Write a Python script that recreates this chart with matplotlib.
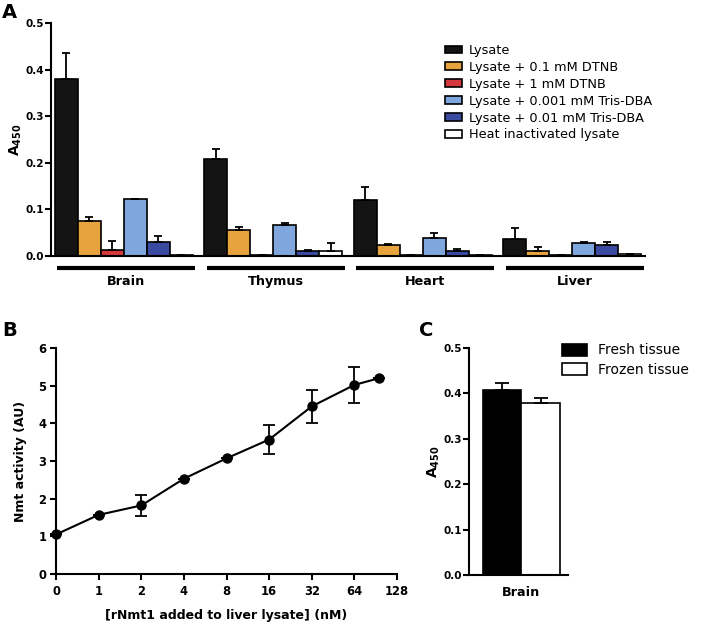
import matplotlib
matplotlib.use("Agg")
import matplotlib.pyplot as plt
from matplotlib.patches import Patch
import numpy as np

plt.rcParams['font.family'] = ['DejaVu Sans']

# ---- panel A data ----
tissues = ["Brain", "Thymus", "Heart", "Liver"]
conditions = ["Lysate", "Lysate + 0.1 mM DTNB", "Lysate + 1 mM DTNB",
              "Lysate + 0.001 mM Tris-DBA", "Lysate + 0.01 mM Tris-DBA",
              "Heat inactivated lysate"]
colors = ["#141414", "#E7A33E", "#D2383C", "#80A7DD", "#3A4AA0", "#FFFFFF"]
# rows = conditions, cols = tissues
a_means = [
    [0.380, 0.207, 0.120, 0.037],
    [0.075, 0.055, 0.023, 0.010],
    [0.013, 0.001, 0.001, 0.002],
    [0.122, 0.067, 0.039, 0.027],
    [0.030, 0.010, 0.011, 0.024],
    [0.001, 0.011, 0.001, 0.004],
]
a_err = [
    [0.055, 0.022, 0.028, 0.022],
    [0.008, 0.007, 0.002, 0.009],
    [0.018, 0.000, 0.000, 0.000],
    [0.001, 0.004, 0.009, 0.003],
    [0.013, 0.002, 0.003, 0.005],
    [0.000, 0.016, 0.000, 0.000],
]

# ---- panel B data ----
b_conc = [0, 1, 2, 4, 8, 16, 32, 64, 96]
b_tick_labels = ["0", "1", "2", "4", "8", "16", "32", "64", "128"]
b_act = [1.05, 1.57, 1.82, 2.53, 3.07, 3.57, 4.45, 5.02, 5.20]
b_err = [0.0, 0.0, 0.28, 0.0, 0.0, 0.38, 0.44, 0.48, 0.0]

# ---- panel C data ----
c_labels = ["Fresh tissue", "Frozen tissue"]
c_means = [0.407, 0.378]
c_err = [0.015, 0.011]
c_colors = ["#000000", "#FFFFFF"]

fig = plt.figure(figsize=(7.02, 6.24), dpi=100)

def style_axes(ax, fs=7.5):
    for s in ["top", "right"]:
        ax.spines[s].set_visible(False)
    for s in ["left", "bottom"]:
        ax.spines[s].set_linewidth(1.5)
    ax.tick_params(width=1.5, length=4, direction="out", labelsize=fs, pad=1)
    for lab in ax.get_xticklabels() + ax.get_yticklabels():
        lab.set_fontweight("bold")

# ===== Panel A =====
axA = fig.add_axes([0.0726, 0.590, 0.846, 0.373])
pitch = 6.5
for j, cond in enumerate(conditions):
    xs = [i * pitch + j + 0.5 for i in range(len(tissues))]
    axA.bar(xs, a_means[j], width=1.0, color=colors[j], edgecolor="black",
            linewidth=1.2, label=cond)
    axA.errorbar(xs, a_means[j], yerr=[np.zeros(4), a_err[j]], fmt="none",
                 ecolor="black", elinewidth=1.3, capsize=3, capthick=1.3)
axA.set_xlim(-0.17, 25.65)
axA.set_ylim(0, 0.5)
axA.set_yticks([0, 0.1, 0.2, 0.3, 0.4, 0.5])
axA.set_yticklabels(["0.0", "0.1", "0.2", "0.3", "0.4", "0.5"])
axA.set_xticks([])
style_axes(axA)
axA.set_ylabel(r"$\mathbf{A_{450}}$", fontsize=10, labelpad=1)
for i, t in enumerate(tissues):
    x0 = i * pitch + 0.1
    x1 = i * pitch + 6.1
    axA.plot([x0, x1], [-0.027, -0.027], color="black", lw=3,
             solid_capstyle="butt", clip_on=False)
    axA.text((x0 + x1) / 2, -0.055, t, ha="center", va="center",
             fontsize=9.2, fontweight="bold")
legA = axA.legend(loc="upper left", bbox_to_anchor=(0.663, 0.91),
                  frameon=False, fontsize=9.3, handlelength=1.3,
                  handleheight=0.55, handletextpad=0.55, labelspacing=0.3,
                  borderaxespad=0, borderpad=0)
for h in legA.legend_handles:
    h.set_edgecolor("black")
    h.set_linewidth(1.2)

# ===== Panel B =====
axB = fig.add_axes([0.0798, 0.0801, 0.4857, 0.3622])
b_pos = [0 if c == 0 else np.log2(c) + 1 for c in b_conc]
axB.errorbar(b_pos, b_act, yerr=b_err, fmt="-o", color="black", lw=1.5,
             markersize=6.5, elinewidth=1.3, capsize=4, capthick=1.3,
             clip_on=False, zorder=3)
axB.set_xlim(0, 8)
axB.set_ylim(0, 6)
axB.set_xticks(range(9))
axB.set_xticklabels(b_tick_labels)
axB.set_yticks(range(7))
style_axes(axB, fs=8.3)
axB.tick_params(axis="x", pad=4)
axB.tick_params(axis="y", pad=3)
axB.set_ylabel("Nmt activity (AU)", fontsize=9, fontweight="bold", labelpad=8)
axB.set_xlabel("[rNmt1 added to liver lysate] (nM)", fontsize=9,
               fontweight="bold", labelpad=8)

# ===== Panel C =====
axC = fig.add_axes([0.668, 0.0785, 0.141, 0.3638])
axC.bar([0.5, 1.5], c_means, width=1.0, color=c_colors, edgecolor="black",
        linewidth=1.2)
axC.errorbar([0.5, 1.5], c_means, yerr=[np.zeros(2), c_err], fmt="none",
             ecolor="black", elinewidth=1.3, capsize=5, capthick=1.3)
axC.set_xlim(-0.36, 2.21)
axC.set_ylim(0, 0.5)
axC.set_yticks([0, 0.1, 0.2, 0.3, 0.4, 0.5])
axC.set_yticklabels(["0.0", "0.1", "0.2", "0.3", "0.4", "0.5"])
axC.set_xticks([1.0])
axC.set_xticklabels(["Brain"])
style_axes(axC)
axC.tick_params(axis="x", length=0, labelsize=9.2, pad=8)
axC.set_ylabel(r"$\mathbf{A_{450}}$", fontsize=10, labelpad=1)
handles = [Patch(facecolor=c, edgecolor="black", linewidth=1.2) for c in c_colors]
axC.legend(handles, c_labels, loc="upper left", bbox_to_anchor=(0.94, 1.02),
           frameon=False, fontsize=10, handlelength=1.8, handleheight=0.95,
           handletextpad=0.8, labelspacing=0.4, borderaxespad=0, borderpad=0)

# panel letters
fig.text(0.003, 0.995, "A", fontsize=14, fontweight="bold", va="top")
fig.text(0.003, 0.485, "B", fontsize=14, fontweight="bold", va="top")
fig.text(0.597, 0.485, "C", fontsize=14, fontweight="bold", va="top")

fig.savefig("out.png", dpi=100)
